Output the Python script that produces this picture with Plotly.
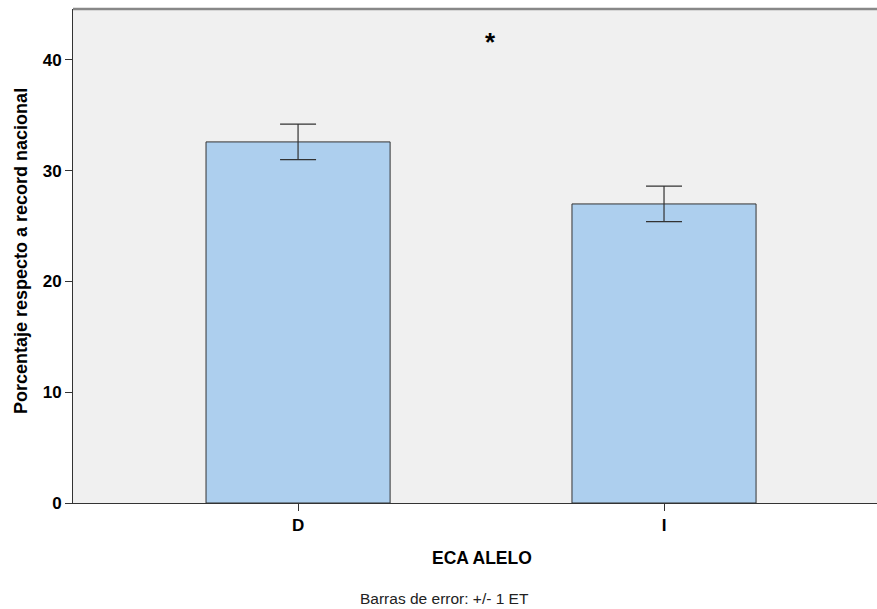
import plotly.graph_objects as go

categories = ["D", "I"]
means = [32.6, 27.0]
se = [1.6, 1.6]
yticks = [0, 10, 20, 30, 40]

FONT = "Liberation Sans, Arial"
L, T = 73, 9
W, H = 877, 609
PW, PH = 804, 494

fig = go.Figure()
fig.add_trace(go.Bar(
    x=[0, 1], y=means,
    width=0.503,
    marker=dict(color="#ADCFEE", line=dict(color="#333333", width=1)),
    error_y=dict(type="data", array=se, visible=True, color="#333333", thickness=1.2, width=18),
))

fig.update_layout(
    width=W, height=H,
    margin=dict(l=L, r=0, t=T, b=H - T - PH, autoexpand=False),
    plot_bgcolor="#F0F0F0", paper_bgcolor="white",
    showlegend=False,
    font=dict(family=FONT, color="black"),
    xaxis=dict(range=[-0.615, 1.582], tickvals=[0, 1], ticktext=["<b>%s</b>" % c for c in categories],
               ticks="outside", ticklen=7, tickcolor="#333", showgrid=False, zeroline=False,
               showline=True, linecolor="#333", linewidth=1,
               tickfont=dict(size=17, family=FONT)),
    yaxis=dict(range=[0, 44.6], tickvals=yticks, ticktext=["<b>%d</b>" % v for v in yticks],
               ticks="outside", ticklen=7, tickcolor="#333",
               showgrid=False, zeroline=False, showline=True, linecolor="#333", linewidth=1,
               tickfont=dict(size=17, family=FONT)),
    shapes=[dict(type="line", xref="paper", yref="paper", x0=0, x1=1, y0=1, y1=1,
                 line=dict(color="#888888", width=2.5))],
)

def px(x):
    return (x - L) / PW

def py(y):
    return (T + PH - y) / PH

fig.add_annotation(x=0.527, y=41.6, xref="x", yref="y", text="<b>*</b>", showarrow=False,
                   font=dict(family=FONT, size=26, color="black"))
fig.add_annotation(text="<b>Porcentaje respecto a record nacional</b>", textangle=-90,
                   xref="paper", yref="paper", x=px(21), y=py(251), showarrow=False,
                   xanchor="center", yanchor="middle",
                   font=dict(size=18, family=FONT, color="black"))
fig.add_annotation(text="<b>ECA ALELO</b>", xref="paper", yref="paper",
                   x=px(482), y=py(558), showarrow=False,
                   xanchor="center", yanchor="middle",
                   font=dict(size=17.5, family=FONT, color="black"))
fig.add_annotation(text="Barras de error: +/- 1 ET", xref="paper", yref="paper",
                   x=px(444), y=py(598), showarrow=False,
                   xanchor="center", yanchor="middle",
                   font=dict(size=15.5, family=FONT, color="#222"))

fig.write_html("out.html", config={"displayModeBar": False},
               post_script="document.body.style.margin='0';document.body.style.overflow='hidden';")
